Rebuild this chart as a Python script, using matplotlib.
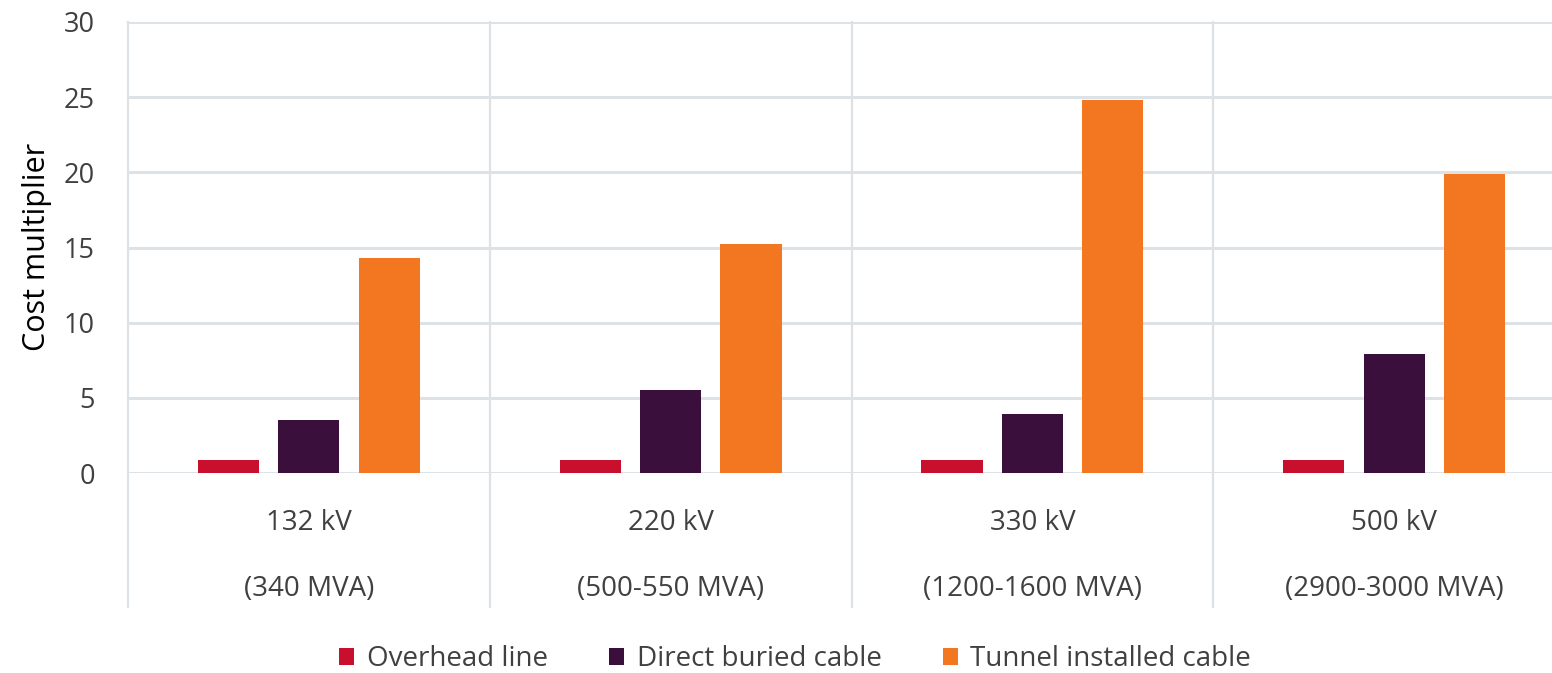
import matplotlib
matplotlib.use("Agg")
import matplotlib.pyplot as plt
import numpy as np

categories_kv = ["132 kV", "220 kV", "330 kV", "500 kV"]
categories_mva = ["(340 MVA)", "(500-550 MVA)", "(1200-1600 MVA)", "(2900-3000 MVA)"]
series_names = ["Overhead line", "Direct buried cable", "Tunnel installed cable"]
overhead = [0.85, 0.85, 0.85, 0.85]
direct_buried = [3.5, 5.5, 3.9, 7.9]
tunnel = [14.3, 15.2, 24.8, 19.9]
y_ticks = [0, 5, 10, 15, 20, 25, 30]

colors = ["#C8102E", "#3A0F3C", "#F37721"]
grid_c = "#DCE2E5"
text_c = "#404040"

plt.rcParams['font.family'] = ['Open Sans', 'DejaVu Sans']

fig = plt.figure(figsize=(15.52, 6.73), dpi=100)
W, H = 1552, 673
left, right, top, bottom = 128, 1575, 22, 473
ax = fig.add_axes([left / W, 1 - bottom / H, (right - left) / W, (bottom - top) / H])

x = np.arange(len(categories_kv))
bw = 0.169
off = 0.222
for i, (vals, c, name) in enumerate(zip([overhead, direct_buried, tunnel], colors, series_names)):
    ax.bar(x + (i - 1) * off, vals, width=bw, color=c, label=name, zorder=3)

ax.set_xlim(-0.5, len(categories_kv) - 0.5)
ax.set_ylim(0, 30)
ax.set_yticks(y_ticks)
ax.yaxis.grid(True, color=grid_c, linewidth=2.2, zorder=0)
ax.set_axisbelow(True)
for s in ax.spines.values():
    s.set_visible(False)
ax.set_xticks([])
ax.tick_params(axis='y', length=0, pad=24, labelsize=19.5, labelcolor=text_c)

# category separators extending below axis
ext = -(607 - bottom) / (bottom - top)
trans = ax.get_xaxis_transform()
for xv in np.arange(-0.5, len(categories_kv), 1.0):
    ax.plot([xv, xv], [ext, 1], transform=trans, color=grid_c, linewidth=1.6,
            clip_on=False, zorder=1)

y1 = -(523 - bottom) / (bottom - top)
y2 = -(589 - bottom) / (bottom - top)
for xi, a, b in zip(x, categories_kv, categories_mva):
    ax.text(xi, y1, a, transform=trans, ha='center', va='center', fontsize=20, color=text_c)
    ax.text(xi, y2, b, transform=trans, ha='center', va='center', fontsize=20, color=text_c)

fig.text(37 / W, 1 - 247 / H, "Cost multiplier", rotation=90, ha='center', va='center',
         fontsize=22, color='black', fontweight='medium')

handles, labels = ax.get_legend_handles_labels()
leg = fig.legend(handles, labels, loc='center', bbox_to_anchor=(795 / W, 1 - 659 / H),
                 ncol=3, frameon=False, fontsize=20, handlelength=0.55, handleheight=0.55,
                 handletextpad=0.45, columnspacing=2.2, labelcolor=text_c)

fig.savefig("out.png", dpi=100)
